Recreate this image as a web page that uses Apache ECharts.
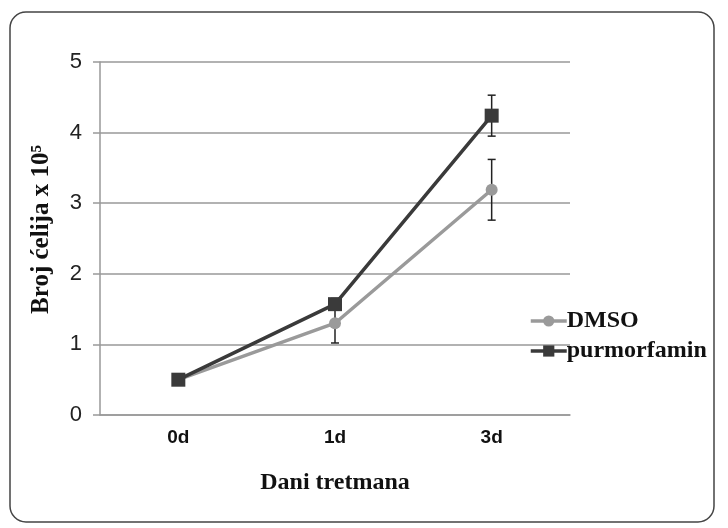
<!DOCTYPE html>
<html>
<head>
<meta charset="utf-8">
<script src="https://cdn.jsdelivr.net/npm/echarts@6/dist/echarts.min.js"></script>
<style>
html,body{margin:0;padding:0;background:#fff;}
#main{width:728px;height:528px;}
</style>
</head>
<body>
<div id="main"></div>
<script>
var categories = ['0d', '1d', '3d'];
var dmsoValues = [0.5, 1.3, 3.19];
var dmsoErrors = [0, 0.28, 0.43];
var purValues = [0.5, 1.57, 4.24];
var purErrors = [0, 0.08, 0.29];
var yTicks = [0, 1, 2, 3, 4, 5];

var chart = echarts.init(document.getElementById('main'));

function errorSeries(name, values, errors) {
  return {
    type: 'custom',
    name: name + '_err',
    z: 1,
    silent: true,
    data: values.map(function (v, i) { return [i, v - errors[i], v + errors[i]]; }),
    renderItem: function (params, api) {
      var lo = api.coord([api.value(0), api.value(1)]);
      var hi = api.coord([api.value(0), api.value(2)]);
      if (Math.abs(hi[1] - lo[1]) < 1) return null;
      var hw = 4;
      var st = { stroke: '#222', lineWidth: 1.5 };
      return {
        type: 'group',
        children: [
          { type: 'line', shape: { x1: lo[0], y1: lo[1], x2: hi[0], y2: hi[1] }, style: st },
          { type: 'line', shape: { x1: lo[0] - hw, y1: lo[1], x2: lo[0] + hw, y2: lo[1] }, style: st },
          { type: 'line', shape: { x1: hi[0] - hw, y1: hi[1], x2: hi[0] + hw, y2: hi[1] }, style: st }
        ]
      };
    }
  };
}

chart.setOption({
  backgroundColor: '#ffffff',
  animation: false,
  graphic: [{
    type: 'rect',
    shape: { x: 10, y: 12, width: 704, height: 510, r: 16 },
    style: { fill: 'none', stroke: '#444', lineWidth: 1.5 },
    z: -10
  }],
  grid: { left: 100, right: 158, top: 62, bottom: 113 },
  legend: {
    orient: 'vertical',
    left: 524,
    top: 304,
    itemWidth: 36,
    itemHeight: 14,
    itemGap: 6,
    data: ['DMSO', 'purmorfamin'],
    lineStyle: { width: 3.5 },
    textStyle: { fontFamily: 'Liberation Serif', fontWeight: 'bold', fontSize: 24, color: '#111', padding: [0, 0, 0, -5] }
  },
  xAxis: {
    type: 'category',
    data: categories,
    boundaryGap: true,
    name: 'Dani tretmana',
    nameLocation: 'middle',
    nameGap: 56,
    nameTextStyle: { fontFamily: 'Liberation Serif', fontWeight: 'bold', fontSize: 24, color: '#111' },
    axisLine: { lineStyle: { color: '#999', width: 1.5 } },
    axisTick: { show: false },
    axisLabel: { fontFamily: 'Liberation Sans', fontWeight: 'bold', fontSize: 19, color: '#111', margin: 13 }
  },
  yAxis: {
    type: 'value',
    min: yTicks[0],
    max: yTicks[yTicks.length - 1],
    interval: 1,
    name: 'Broj ćelija x 10\u2075',
    nameLocation: 'middle',
    nameGap: 46,
    nameRotate: 90,
    nameTextStyle: { fontFamily: 'Liberation Serif', fontWeight: 'bold', fontSize: 25, color: '#111', padding: [0, 0, 0, 18] },
    axisLine: { show: true, lineStyle: { color: '#999', width: 1.5 } },
    axisTick: { show: true, length: 7, lineStyle: { color: '#999', width: 1.5 } },
    axisLabel: { fontFamily: 'Liberation Sans', fontSize: 22, color: '#222', margin: 18 },
    splitLine: { lineStyle: { color: '#999', width: 1.5 } }
  },
  series: [
    errorSeries('DMSO', dmsoValues, dmsoErrors),
    errorSeries('purmorfamin', purValues, purErrors),
    {
      name: 'DMSO',
      type: 'line',
      z: 3,
      data: dmsoValues,
      symbol: 'circle',
      symbolSize: 12,
      lineStyle: { color: '#9a9a9a', width: 3.5 },
      itemStyle: { color: '#9a9a9a' }
    },
    {
      name: 'purmorfamin',
      type: 'line',
      z: 4,
      data: purValues,
      symbol: 'rect',
      symbolSize: 14,
      lineStyle: { color: '#3a3a3a', width: 3.5 },
      itemStyle: { color: '#3a3a3a' }
    }
  ]
});
</script>
</body>
</html>
